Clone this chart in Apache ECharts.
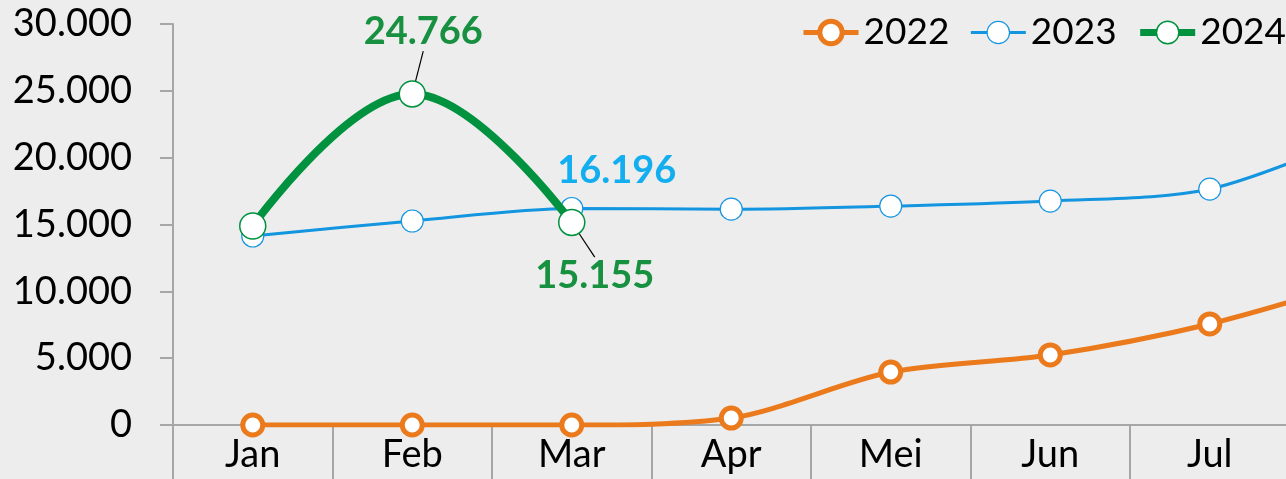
<!DOCTYPE html>
<html><head><meta charset="utf-8">
<script src="https://cdn.jsdelivr.net/npm/echarts@6/dist/echarts.min.js"></script>
<style>html,body{margin:0;padding:0;background:#ededed;overflow:hidden;width:1286px;height:479px}#c{width:1449px;height:479px}</style>
</head><body><div id="c"></div>
<script>
const categories = ['Jan','Feb','Mar','Apr','Mei','Jun','Jul','Agt'];
const yTicks = [0, 5000, 10000, 15000, 20000, 25000, 30000];
const s2022 = [0, 0, 0, 520, 3960, 5240, 7560, 11000];
const s2023 = [14140, 15260, 16196, 16150, 16380, 16750, 17650, 22000];
const s2024 = [14890, 24766, 15155];
const seriesNames = ['2022', '2023', '2024'];

const fmt = v => String(Math.round(v)).replace(/\B(?=(\d{3})+(?!\d))/g, '.');
const FONT = 'Lato';
const FS = 38;
const C22 = '#ea7a1c', C23 = '#1495e0', C24 = '#00923f';
const chart = echarts.init(document.getElementById('c'));
chart.setOption({
  backgroundColor: '#ededed',
  animation: false,
  textStyle: {fontFamily: FONT},
  grid: {left: 173, top: 24, bottom: 54, right: 0},
  legend: {
    left: 796, top: 9, itemWidth: 55, itemHeight: 28, itemGap: 20,
    textStyle: {fontSize: 37, color: '#000', fontFamily: FONT},
    data: [
      {name: seriesNames[0], lineStyle: {color: C22, width: 5}, itemStyle: {color: '#fff', borderColor: C22, borderWidth: 5}},
      {name: seriesNames[1], lineStyle: {color: C23, width: 3}, itemStyle: {color: '#fff', borderColor: C23, borderWidth: 1.2}},
      {name: seriesNames[2], lineStyle: {color: C24, width: 7}, itemStyle: {color: '#fff', borderColor: C24, borderWidth: 1.5}}
    ]
  },
  xAxis: {
    type: 'category', data: categories, boundaryGap: true,
    axisLine: {lineStyle: {color: '#a6a6a6', width: 2}},
    axisTick: {show: true, interval: 0, length: 60, lineStyle: {color: '#a6a6a6', width: 2}},
    axisLabel: {fontSize: FS, color: '#000', margin: 11, fontFamily: FONT, interval: 0}
  },
  yAxis: {
    type: 'value', min: yTicks[0], max: yTicks[yTicks.length-1], interval: yTicks[1]-yTicks[0],
    axisLine: {show: true, lineStyle: {color: '#a6a6a6', width: 2}},
    axisTick: {show: true, length: 13, lineStyle: {color: '#a6a6a6', width: 2}},
    splitLine: {show: false},
    axisLabel: {fontSize: FS, color: '#000', margin: 41, fontFamily: FONT, formatter: fmt}
  },
  series: [
    {
      name: seriesNames[0], type: 'line', data: s2022, smooth: 0.3,
      symbol: 'circle', symbolSize: 20,
      lineStyle: {color: C22, width: 5},
      itemStyle: {color: '#ffffff', borderColor: C22, borderWidth: 5},
      z: 2
    },
    {
      name: seriesNames[1], type: 'line', data: s2023.map((v,i) => i === 2 ? {
          value: v,
          label: {show: true, position: 'top', formatter: p => fmt(p.value), fontSize: FS, fontWeight: 'bold', color: '#13aef0', fontFamily: FONT}
        } : v), smooth: 0.3,
      symbol: 'circle', symbolSize: 22,
      lineStyle: {color: C23, width: 3},
      itemStyle: {color: '#ffffff', borderColor: C23, borderWidth: 1.2},
      labelLayout: p => ({dx: 45, dy: -2}),
      z: 3
    },
    {
      name: seriesNames[2], type: 'line', data: s2024.map((v,i) => i === 1 ? {
          value: v,
          label: {show: true, position: 'top', formatter: p => fmt(p.value), fontSize: FS, fontWeight: 'bold', color: '#17903f', fontFamily: FONT}
        } : i === 2 ? {
          value: v,
          label: {show: true, position: 'bottom', formatter: p => fmt(p.value), fontSize: FS, fontWeight: 'bold', color: '#17903f', fontFamily: FONT}
        } : v), smooth: 0.4,
      symbol: 'circle', symbolSize: 26,
      lineStyle: {color: C24, width: 8},
      itemStyle: {color: '#ffffff', borderColor: C24, borderWidth: 1.5},
      labelLine: {show: true, lineStyle: {color: '#000', width: 1.2}},
      labelLayout: p => p.dataIndex === 1 ? {dx: 11, dy: -24} : {dx: 23, dy: 16},
      z: 4
    }
  ]
});
</script></body></html>
